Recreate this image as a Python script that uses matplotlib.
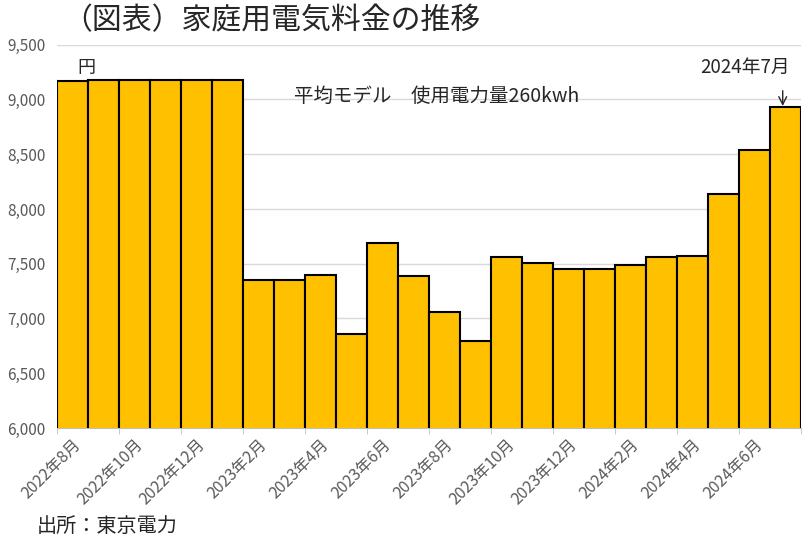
import matplotlib
matplotlib.use("Agg")
import matplotlib.pyplot as plt
import numpy as np

plt.rcParams['font.family'] = ['Noto Sans CJK JP', 'DejaVu Sans']

# 家庭用電気料金（円）
months = ["2022年8月", "2022年9月", "2022年10月", "2022年11月", "2022年12月", "2023年1月",
          "2023年2月", "2023年3月", "2023年4月", "2023年5月", "2023年6月", "2023年7月",
          "2023年8月", "2023年9月", "2023年10月", "2023年11月", "2023年12月", "2024年1月",
          "2024年2月", "2024年3月", "2024年4月", "2024年5月", "2024年6月", "2024年7月"]
ryokin = [9170, 9180, 9180, 9180, 9180, 9180,
          7355, 7355, 7395, 6857, 7690, 7385,
          7057, 6794, 7566, 7505, 7455, 7455,
          7487, 7560, 7575, 8140, 8543, 8930]
yticks = [6000, 6500, 7000, 7500, 8000, 8500, 9000, 9500]

fig = plt.figure(figsize=(8.12, 5.41), dpi=100)
ax = fig.add_axes([56.7/812, 1-428/541, 744/812, (428-44.7)/541])

x = np.arange(len(months))
ax.bar(x, ryokin, width=1.0, color="#FFC000", edgecolor="black", linewidth=1.5, zorder=3)

ax.set_xlim(-0.5, len(months)-0.5)
ax.set_ylim(6000, 9500)
ax.set_yticks(yticks)
ax.set_yticklabels([f"{v:,}" for v in yticks], fontsize=11, color="#595959")
ax.yaxis.grid(True, color="#D9D9D9", linewidth=1.0, zorder=0)
ax.tick_params(axis="y", length=0, pad=8)

ax.set_xticks(x[::2])
ax.set_xticklabels(months[::2], rotation=45, ha="right", rotation_mode="anchor",
                   fontsize=11.5, color="#595959")
ax.set_xticks(np.arange(-0.5, len(months), 2), minor=True)
ax.tick_params(axis="x", which="major", length=0, pad=6)
ax.tick_params(axis="x", which="minor", length=4, color="#BFBFBF")

for s in ["top", "right", "left"]:
    ax.spines[s].set_visible(False)
ax.spines["bottom"].set_color("#BFBFBF")

ax.text(0.45, 9290, "円", fontsize=13, color="#262626", ha="center", va="center")
ax.text(7.15, 9030, "平均モデル　使用電力量260kwh", fontsize=14, color="#262626",
        ha="left", va="center")
ax.text(x[-1]+0.15, 9295, "2024年7月", fontsize=13.5, color="#262626",
        ha="right", va="center")
ax.annotate("", xy=(x[-1]-0.08, ryokin[-1]+10), xytext=(x[-1]-0.08, 9080),
            arrowprops=dict(arrowstyle="->", color="#262626", lw=1,
                            mutation_scale=14, shrinkA=0, shrinkB=0))

fig.text(62/812, 1-21/541, "（図表）家庭用電気料金の推移", fontsize=21.5, color="#262626",
         va="center", ha="left")
fig.text(37/812, 1-526/541, "出所：東京電力", fontsize=14.5, color="#262626", va="center")

fig.savefig("out.png", dpi=100)
